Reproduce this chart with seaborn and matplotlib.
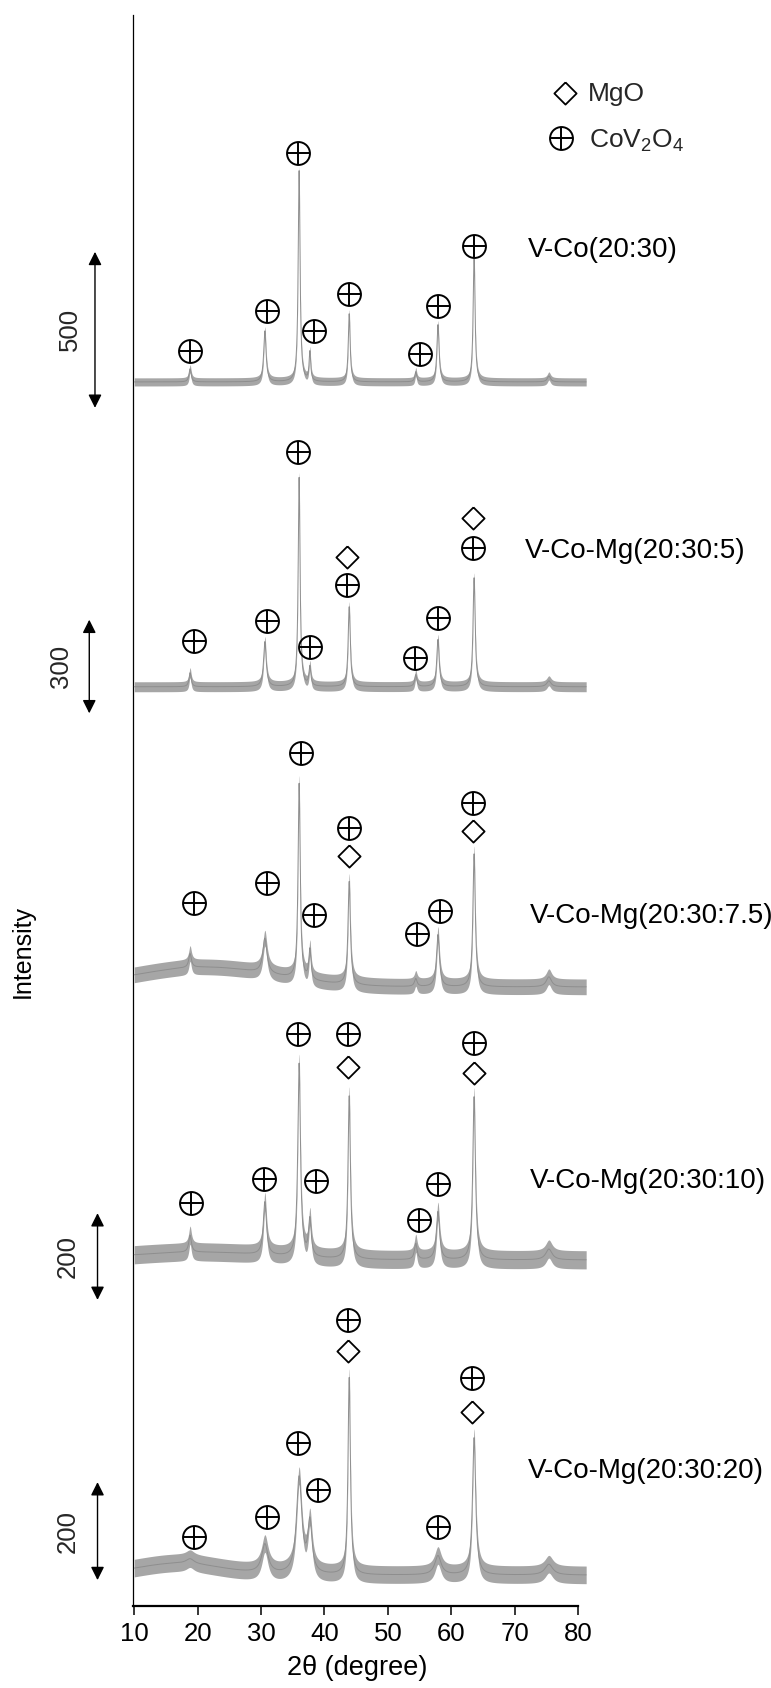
import numpy as np
import pandas as pd
import matplotlib
matplotlib.use("Agg")
import matplotlib.pyplot as plt
import seaborn as sns

# ------------------------------------------------------------------
# XRD data (intensities in counts above each pattern's baseline)
# ------------------------------------------------------------------
samples = ["V-Co(20:30)", "V-Co-Mg(20:30:5)", "V-Co-Mg(20:30:7.5)",
           "V-Co-Mg(20:30:10)", "V-Co-Mg(20:30:20)"]

# reflection positions (2-theta, degree)
peak_2theta = [18.8, 30.6, 36.0, 37.7, 43.9, 54.4, 57.9, 63.6, 75.4]

# peak heights, counts
int_vco_20_30 = [42, 163, 676, 93, 218, 32, 183, 413, 19]
int_vcomg_5 = [45, 144, 670, 61, 256, 38, 151, 349, 19]
int_vcomg_7_5 = [37, 93, 521, 80, 275, 21, 139, 355, 27]
int_vcomg_10 = [39, 122, 445, 85, 376, 37, 111, 376, 25]
int_vcomg_20 = [10, 59, 196, 102, 402, 0, 39, 280, 22]

# peak widths (FWHM, degree)
fwhm_vco_20_30 = [0.40, 0.45, 0.35, 0.30, 0.35, 0.35, 0.40, 0.35, 0.6]
fwhm_vcomg_5 = [0.40, 0.50, 0.35, 0.35, 0.40, 0.40, 0.45, 0.40, 0.8]
fwhm_vcomg_7_5 = [0.50, 0.80, 0.40, 0.40, 0.45, 0.50, 0.55, 0.45, 1.0]
fwhm_vcomg_10 = [0.50, 0.60, 0.50, 0.50, 0.45, 0.50, 0.60, 0.50, 1.2]
fwhm_vcomg_20 = [1.50, 1.20, 1.00, 0.80, 0.45, 0.50, 1.20, 0.60, 1.5]

# broad amorphous background: centre (deg), height (counts), FWHM (deg)
hump_center = [20, 20, 21, 20, 17]
hump_height = [0, 0, 53, 18, 24]
hump_fwhm = [20, 20, 26, 26, 16]

# counting-noise half-width, counts
noise_halfwidth = [13, 16, 21, 21, 18]

# intensity scale bars, counts
scale_bar_counts = [500, 300, 0, 200, 200]

x_ticks = [10, 20, 30, 40, 50, 60, 70, 80]
scan_start, scan_end, scan_step = 10.0, 81.3, 0.02

phases = ["MgO", "CoV$_2$O$_4$"]

# phase marks: (2-theta, height in axis units, phase)  p = CoV2O4, d = MgO
marks = [
    [(18.79, 4021, "p"), (30.93, 4149, "p"), (35.82, 4657, "p"), (38.34, 4085, "p"),
     (43.82, 4204, "p"), (55.02, 4012, "p"), (57.90, 4164, "p"), (63.53, 4359, "p")],
    [(19.46, 3093, "p"), (30.98, 3156, "p"), (35.82, 3696, "p"), (37.76, 3074, "p"),
     (43.60, 3271, "p"), (43.60, 3362, "d"), (54.27, 3037, "p"), (57.95, 3167, "p"),
     (63.47, 3389, "p"), (63.47, 3485, "d")],
    [(19.46, 2253, "p"), (30.98, 2315, "p"), (36.29, 2732, "p"), (38.39, 2214, "p"),
     (43.86, 2494, "p"), (43.86, 2404, "d"), (54.54, 2153, "p"), (58.22, 2228, "p"),
     (63.47, 2574, "p"), (63.47, 2483, "d")],
    [(18.94, 1290, "p"), (30.50, 1368, "p"), (35.82, 1831, "p"), (38.61, 1362, "p"),
     (43.75, 1831, "p"), (43.75, 1728, "d"), (54.95, 1236, "p"), (57.95, 1351, "p"),
     (63.58, 1803, "p"), (63.58, 1708, "d")],
    [(19.42, 221, "p"), (30.88, 285, "p"), (35.77, 522, "p"), (38.93, 371, "p"),
     (43.75, 916, "p"), (43.75, 816, "d"), (57.85, 253, "p"), (63.22, 731, "p"),
     (63.31, 622, "d")],
]

intensities = [int_vco_20_30, int_vcomg_5, int_vcomg_7_5, int_vcomg_10, int_vcomg_20]
widths = [fwhm_vco_20_30, fwhm_vcomg_5, fwhm_vcomg_7_5, fwhm_vcomg_10, fwhm_vcomg_20]

# ------------------------------------------------------------------
# layout
# ------------------------------------------------------------------
baseline = [3922, 2945, 1983, 1108, 98]      # vertical offset of each pattern
gain = [1.0, 1.0, 1.2, 1.39, 1.57]           # display gain of each pattern
label_pos = [(72.1, 4324), (71.6, 3358), (72.4, 2187), (72.4, 1338), (72.1, 408)]
bar_x = [3.8, 2.9, 0, 4.2, 4.2]
bar_label_x = [-0.15, -1.55, 0, -0.45, -0.45]
bar_bottom = [3839, 2860, 0, 980, 82]
legend_marker_pos = [(77.93, 4848), (77.3, 4704)]
legend_text_pos = [(81.56, 4821), (81.72, 4671)]

TRACE_LINE = "#8e8e8e"
TRACE_BAND = "#a6a6a6"
DIAMOND = [(0, 1), (1, 0), (0, -1), (-1, 0), (0, 1)]

sns.set_theme(style="white")
plt.rcParams["font.family"] = ["Liberation Sans", "DejaVu Sans"]
plt.rcParams["mathtext.fontset"] = "custom"
plt.rcParams["mathtext.rm"] = "Liberation Sans"
plt.rcParams["mathtext.it"] = "Liberation Sans:italic"
plt.rcParams["mathtext.bf"] = "Liberation Sans:bold"

fig = plt.figure(figsize=(7.71, 16.88), dpi=100)
ax = fig.add_axes([132.7 / 771, 82.3 / 1688, 455.5 / 771, 1590.7 / 1688])

two_theta = np.arange(scan_start, scan_end, scan_step)


def pattern(x, heights, fwhms, hc, hh, hw):
    """Lorentzian reflections on a Gaussian amorphous background."""
    y = hh * np.exp(-4 * np.log(2) * (x - hc) ** 2 / hw ** 2)
    for p, h, w in zip(peak_2theta, heights, fwhms):
        y = y + h / (1 + 4 * ((x - p) / w) ** 2)
    return y


def cov2o4_mark(x, y):
    ax.plot(x, y, marker="o", ms=16.5, mfc="none", mec="black", mew=1.4,
            ls="none", zorder=4, clip_on=False)
    ax.plot(x, y, marker="+", ms=16.5, mec="black", mew=1.4,
            ls="none", zorder=4, clip_on=False)


def mgo_mark(x, y):
    ax.plot(x, y, marker=DIAMOND, ms=16, mfc="none", mec="black", mew=1.3,
            ls="none", zorder=4, clip_on=False)


for i, name in enumerate(samples):
    prof = pattern(two_theta, intensities[i], widths[i],
                   hump_center[i], hump_height[i], hump_fwhm[i])
    y = baseline[i] + gain[i] * prof
    band = gain[i] * noise_halfwidth[i]
    ax.fill_between(two_theta, y - band, y + band, color=TRACE_BAND, lw=0, zorder=2)
    df = pd.DataFrame({"2theta": two_theta, "I": y})
    sns.lineplot(data=df, x="2theta", y="I", ax=ax, color=TRACE_LINE, lw=0.7,
                 estimator=None, sort=False, zorder=3)
    ax.text(label_pos[i][0], label_pos[i][1], name, fontsize=20, ha="left",
            va="baseline", color="black", clip_on=False)

    for mx, my, kind in marks[i]:
        if kind == "p":
            cov2o4_mark(mx, my)
        else:
            mgo_mark(mx, my)

    # intensity scale bar
    if scale_bar_counts[i]:
        y0 = bar_bottom[i]
        y1 = y0 + gain[i] * scale_bar_counts[i]
        ax.annotate("", xy=(bar_x[i], y1), xytext=(bar_x[i], y0),
                    arrowprops=dict(arrowstyle="<|-|>", color="black", lw=1.0,
                                    mutation_scale=20, shrinkA=0, shrinkB=0),
                    annotation_clip=False)
        ax.text(bar_label_x[i], (y0 + y1) / 2, str(scale_bar_counts[i]), rotation=90,
                ha="center", va="center", fontsize=18.5, clip_on=False)

# phase key
mgo_mark(*legend_marker_pos[0])
cov2o4_mark(*legend_marker_pos[1])
for (tx, ty), lab in zip(legend_text_pos, phases):
    ax.text(tx, ty, lab, fontsize=19, ha="left", va="baseline", clip_on=False)

# axes
ax.set_xlim(9.75, 81.6)
ax.set_ylim(0, 5098)
ax.set_xticks(x_ticks)
ax.set_yticks([])
ax.tick_params(axis="x", direction="out", length=6.5, width=1.1, pad=5.5,
               labelsize=18.5, colors="black", bottom=True)
for s in ("top", "right"):
    ax.spines[s].set_visible(False)
ax.spines["left"].set_linewidth(0.9)
ax.spines["left"].set_color("black")
ax.spines["bottom"].set_linewidth(1.6)
ax.spines["bottom"].set_color("black")
ax.spines["bottom"].set_bounds(9.75, 80)

ax.set_xlabel("2θ (degree)", fontsize=19.5, color="black")
ax.xaxis.set_label_coords(0.4925, -0.031)
ax.set_ylabel("Intensity", fontsize=18, color="black")
ax.yaxis.set_label_coords(-0.2145, 0.4111)

fig.savefig("out.png", dpi=100)
